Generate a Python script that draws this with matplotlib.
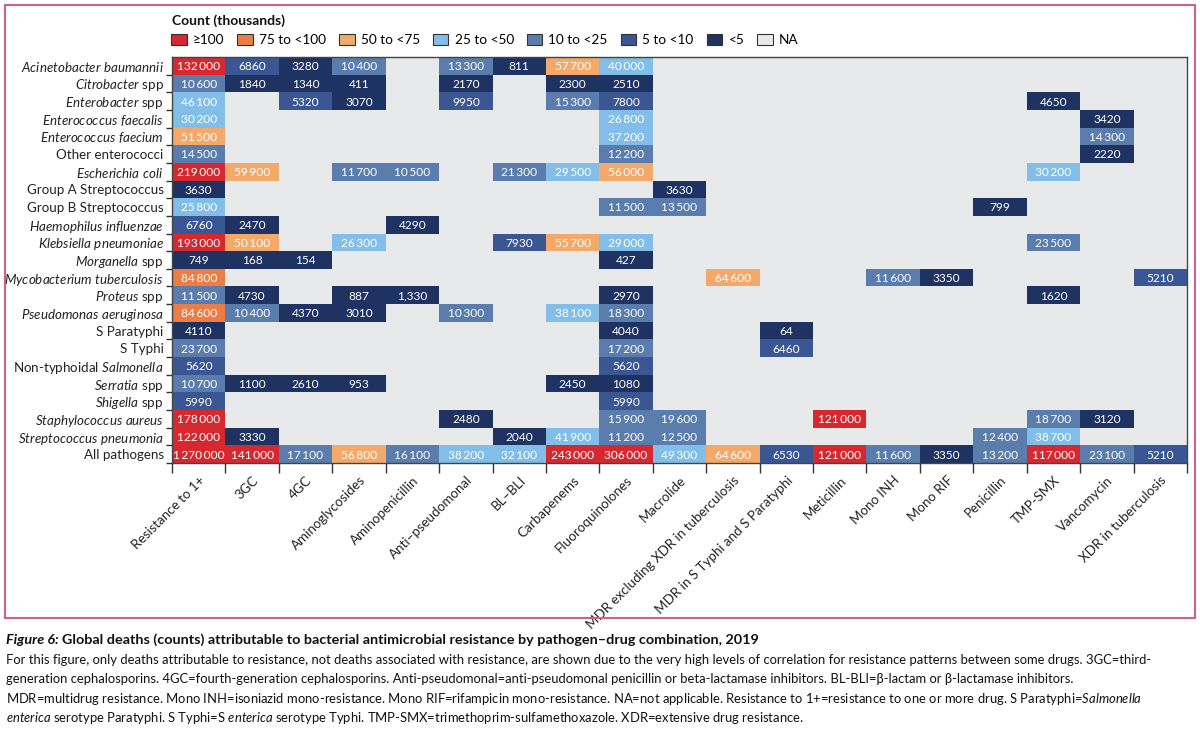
import numpy as np
import matplotlib
matplotlib.use('Agg')
import matplotlib.pyplot as plt
from matplotlib.colors import ListedColormap, BoundaryNorm
from matplotlib.patches import Patch, Rectangle

FONT = 'Lato'
plt.rcParams['font.family'] = [FONT, 'DejaVu Sans']
plt.rcParams['mathtext.fontset'] = 'custom'
plt.rcParams['mathtext.rm'] = FONT
plt.rcParams['mathtext.it'] = FONT + ':italic'
plt.rcParams['mathtext.bf'] = FONT + ':bold'

NA = np.nan

drugs = ['Resistance to 1+', '3GC', '4GC', 'Aminoglycosides', 'Aminopenicillin',
         'Anti\u2013pseudomonal', 'BL\u2013BLI', 'Carbapenems', 'Fluoroquinolones', 'Macrolide',
         'MDR excluding XDR in tuberculosis', 'MDR in S Typhi and S Paratyphi', 'Meticillin',
         'Mono INH', 'Mono RIF', 'Penicillin', 'TMP-SMX', 'Vancomycin', 'XDR in tuberculosis']

pathogens = [r'$\it{Acinetobacter\ baumannii}$', r'$\it{Citrobacter}$ spp', r'$\it{Enterobacter}$ spp',
             r'$\it{Enterococcus\ faecalis}$', r'$\it{Enterococcus\ faecium}$', 'Other enterococci',
             r'$\it{Escherichia\ coli}$', 'Group A Streptococcus', 'Group B Streptococcus',
             r'$\it{Haemophilus\ influenzae}$', r'$\it{Klebsiella\ pneumoniae}$', r'$\it{Morganella}$ spp',
             r'$\it{Mycobacterium\ tuberculosis}$', r'$\it{Proteus}$ spp', r'$\it{Pseudomonas\ aeruginosa}$',
             'S Paratyphi', 'S Typhi', r'Non-typhoidal $\it{Salmonella}$', r'$\it{Serratia}$ spp',
             r'$\it{Shigella}$ spp', r'$\it{Staphylococcus\ aureus}$', r'$\it{Streptococcus\ pneumonia}$',
             'All pathogens']

#                1+      3GC    4GC    Amino  AmPen  AntiP  BLBLI  Carba  FQ     Macro  MDRtb  MDRs   Meti   INH    RIF    Pen    TMP    Vanco  XDR
acinetobacter = [132000, 6860,  3280,  10400, NA,    13300, 811,   57700, 40000, NA,    NA,    NA,    NA,    NA,    NA,    NA,    NA,    NA,    NA]
citrobacter   = [10600,  1840,  1340,  411,   NA,    2170,  NA,    2300,  2510,  NA,    NA,    NA,    NA,    NA,    NA,    NA,    NA,    NA,    NA]
enterobacter  = [46100,  NA,    5320,  3070,  NA,    9950,  NA,    15300, 7800,  NA,    NA,    NA,    NA,    NA,    NA,    NA,    4650,  NA,    NA]
e_faecalis    = [30200,  NA,    NA,    NA,    NA,    NA,    NA,    NA,    26800, NA,    NA,    NA,    NA,    NA,    NA,    NA,    NA,    3420,  NA]
e_faecium     = [51500,  NA,    NA,    NA,    NA,    NA,    NA,    NA,    37200, NA,    NA,    NA,    NA,    NA,    NA,    NA,    NA,    14300, NA]
other_entero  = [14500,  NA,    NA,    NA,    NA,    NA,    NA,    NA,    12200, NA,    NA,    NA,    NA,    NA,    NA,    NA,    NA,    2220,  NA]
e_coli        = [219000, 59900, NA,    11700, 10500, NA,    21300, 29500, 56000, NA,    NA,    NA,    NA,    NA,    NA,    NA,    30200, NA,    NA]
group_a_strep = [3630,   NA,    NA,    NA,    NA,    NA,    NA,    NA,    NA,    3630,  NA,    NA,    NA,    NA,    NA,    NA,    NA,    NA,    NA]
group_b_strep = [25800,  NA,    NA,    NA,    NA,    NA,    NA,    NA,    11500, 13500, NA,    NA,    NA,    NA,    NA,    799,   NA,    NA,    NA]
h_influenzae  = [6760,   2470,  NA,    NA,    4290,  NA,    NA,    NA,    NA,    NA,    NA,    NA,    NA,    NA,    NA,    NA,    NA,    NA,    NA]
klebsiella    = [193000, 50100, NA,    26300, NA,    NA,    7930,  55700, 29000, NA,    NA,    NA,    NA,    NA,    NA,    NA,    23500, NA,    NA]
morganella    = [749,    168,   154,   NA,    NA,    NA,    NA,    NA,    427,   NA,    NA,    NA,    NA,    NA,    NA,    NA,    NA,    NA,    NA]
m_tb          = [84800,  NA,    NA,    NA,    NA,    NA,    NA,    NA,    NA,    NA,    64600, NA,    NA,    11600, 3350,  NA,    NA,    NA,    5210]
proteus       = [11500,  4730,  NA,    887,   1330,  NA,    NA,    NA,    2970,  NA,    NA,    NA,    NA,    NA,    NA,    NA,    1620,  NA,    NA]
pseudomonas   = [84600,  10400, 4370,  3010,  NA,    10300, NA,    38100, 18300, NA,    NA,    NA,    NA,    NA,    NA,    NA,    NA,    NA,    NA]
s_paratyphi   = [4110,   NA,    NA,    NA,    NA,    NA,    NA,    NA,    4040,  NA,    NA,    64,    NA,    NA,    NA,    NA,    NA,    NA,    NA]
s_typhi       = [23700,  NA,    NA,    NA,    NA,    NA,    NA,    NA,    17200, NA,    NA,    6460,  NA,    NA,    NA,    NA,    NA,    NA,    NA]
nts           = [5620,   NA,    NA,    NA,    NA,    NA,    NA,    NA,    5620,  NA,    NA,    NA,    NA,    NA,    NA,    NA,    NA,    NA,    NA]
serratia      = [10700,  1100,  2610,  953,   NA,    NA,    NA,    2450,  1080,  NA,    NA,    NA,    NA,    NA,    NA,    NA,    NA,    NA,    NA]
shigella      = [5990,   NA,    NA,    NA,    NA,    NA,    NA,    NA,    5990,  NA,    NA,    NA,    NA,    NA,    NA,    NA,    NA,    NA,    NA]
s_aureus      = [178000, NA,    NA,    NA,    NA,    2480,  NA,    NA,    15900, 19600, NA,    NA,    121000, NA,   NA,    NA,    18700, 3120,  NA]
s_pneumoniae  = [122000, 3330,  NA,    NA,    NA,    NA,    2040,  41900, 11200, 12500, NA,    NA,    NA,    NA,    NA,    12400, 38700, NA,    NA]
all_pathogens = [1270000, 141000, 17100, 56800, 16100, 38200, 32100, 243000, 306000, 49300, 64600, 6530, 121000, 11600, 3350, 13200, 117000, 23100, 5210]

# label printed with a comma in the source figure
comma_cells = {(13, 4)}

bins = [0, 5000, 10000, 25000, 50000, 75000, 100000, 1e8]
bin_colors = ['#1f3363', '#3a5794', '#5b7dad', '#82bee8', '#f2a96a', '#ee7c45', '#d5282f']
legend_labels = ['\u2265100', '75 to <100', '50 to <75', '25 to <50', '10 to <25', '5 to <10', '<5', 'NA']
legend_colors = ['#d5282f', '#ee7c45', '#f2a96a', '#82bee8', '#5b7dad', '#3a5794', '#1f3363', '#e8e9eb']
na_color = '#e8e9eb'

data = np.array([acinetobacter, citrobacter, enterobacter, e_faecalis, e_faecium, other_entero,
                 e_coli, group_a_strep, group_b_strep, h_influenzae, klebsiella, morganella, m_tb,
                 proteus, pseudomonas, s_paratyphi, s_typhi, nts, serratia, shigella, s_aureus,
                 s_pneumoniae, all_pathogens], dtype=float)
nrow, ncol = data.shape


def fmt(v):
    v = int(v)
    if v < 10000:
        return str(v)
    return f'{v:,}'.replace(',', '\u2009')


fig = plt.figure(figsize=(12, 7.36), dpi=100)
ax = fig.add_axes([172 / 1200, 1 - 463 / 736, 1015 / 1200, 406 / 736])
ax.set_facecolor(na_color)

cmap = ListedColormap(bin_colors)
cmap.set_bad(na_color)
norm = BoundaryNorm(bins, cmap.N)
ax.pcolormesh(np.arange(ncol + 1), np.arange(nrow + 1), np.ma.masked_invalid(data),
              cmap=cmap, norm=norm, edgecolors='none')
ax.set_xlim(0, ncol); ax.set_ylim(nrow, 0)

for i in range(nrow):
    for j in range(ncol):
        v = data[i, j]
        if np.isnan(v):
            continue
        s = f'{int(v):,}' if (i, j) in comma_cells else fmt(v)
        ax.text(j + 0.5, i + 0.55, s, ha='center', va='center', color='white', fontsize=8.6)

ax.set_xticks(np.arange(ncol) + 0.5)
ax.set_xticklabels(drugs, rotation=45, ha='right', rotation_mode='anchor', fontsize=9.6, color='#222222')
ax.set_yticks(np.arange(nrow) + 0.5)
ax.set_yticklabels(pathogens, fontsize=9.6, color='#222222')
ax.tick_params(which='major', length=0)
ax.tick_params(axis='x', which='major', pad=8)
ax.tick_params(axis='y', which='major', pad=6)
ax.set_xticks(np.arange(ncol + 1), minor=True)
ax.set_yticks(np.arange(1, nrow + 1), minor=True)
ax.tick_params(which='minor', axis='x', length=7, width=1, color='#333333')
ax.tick_params(which='minor', axis='y', length=4, width=1, color='#333333')
for sp in ax.spines.values():
    sp.set_color('#444444'); sp.set_linewidth(1)

fig.text(172 / 1200, 1 - 21 / 736, 'Count (thousands)', fontsize=10, fontweight='bold',
         va='center', ha='left', color='#111111')
handles = [Patch(facecolor=c, edgecolor='#333333', linewidth=0.8) for c in legend_colors]
fig.legend(handles, legend_labels, loc='center left', bbox_to_anchor=(171 / 1200, 1 - 40 / 736),
           ncol=8, frameon=False, fontsize=9.8, handlelength=1.15, handleheight=0.95,
           handletextpad=0.45, columnspacing=0.95, borderaxespad=0, borderpad=0)

fig.patches.append(Rectangle((5 / 1200, 1 - 618 / 736), 1190 / 1200, 613 / 736,
                             transform=fig.transFigure, fill=False, edgecolor='#cf5f8b', linewidth=1.5))

t1 = fig.text(6 / 1200, 1 - 640 / 736, 'Figure 6:', fontsize=10.4, fontstyle='italic', fontweight='bold',
              va='center', color='#111111')
r = fig.canvas.get_renderer()
bb = t1.get_window_extent(renderer=r)
fig.text(bb.x1 / 1200 + 3 / 1200, 1 - 640 / 736,
         'Global deaths (counts) attributable to bacterial antimicrobial resistance by pathogen\u2013drug combination, 2019',
         fontsize=10.4, fontweight='bold', va='center', color='#111111')

caption = [
    'For this figure, only deaths attributable to resistance, not deaths associated with resistance, are shown due to the very high levels of correlation for resistance patterns between some drugs. 3GC=third-',
    'generation cephalosporins. 4GC=fourth-generation cephalosporins. Anti-pseudomonal=anti-pseudomonal penicillin or beta-lactamase inhibitors. BL-BLI=\u03b2-lactam or \u03b2-lactamase inhibitors.',
    r'MDR=multidrug resistance. Mono INH=isoniazid mono-resistance. Mono RIF=rifampicin mono-resistance. NA=not applicable. Resistance to 1+=resistance to one or more drug. S Paratyphi=$\it{Salmonella}$',
    r'$\it{enterica}$ serotype Paratyphi. S Typhi=S $\it{enterica}$ serotype Typhi. TMP-SMX=trimethoprim-sulfamethoxazole. XDR=extensive drug resistance.',
]
for k, line in enumerate(caption):
    fig.text(6 / 1200, 1 - (660 + 19.3 * k) / 736, line, fontsize=9.4, va='center', color='#111111')

fig.savefig('out.png', dpi=100)
